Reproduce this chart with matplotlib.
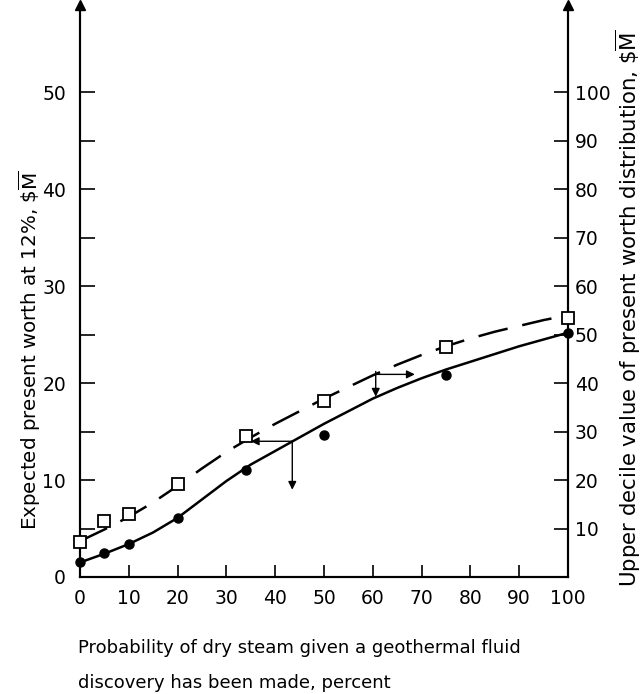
import matplotlib
matplotlib.use("Agg")
import matplotlib.pyplot as plt
import numpy as np

plt.rcParams['font.family'] = ['DejaVu Sans']
plt.rcParams['mathtext.fontset'] = 'dejavusans'

# data
prob_pts = [0, 5, 10, 20, 34, 50, 75, 100]
expected_pw = [1.5, 2.5, 3.4, 6.1, 11.0, 14.6, 20.8, 25.2]          # left axis, $M
upper_decile = [7.2, 11.5, 13.0, 19.1, 29.0, 36.4, 47.5, 53.5]       # right axis, $M

prob_curve = [0, 5, 10, 15, 20, 25, 30, 35, 40, 45, 50,
              55, 60, 65, 70, 75, 80, 85, 90, 95, 100]
expected_curve = [1.5, 2.4, 3.4, 4.6, 6.1, 8.0, 9.9, 11.6, 13.0, 14.4, 15.8,
                  17.1, 18.4, 19.5, 20.5, 21.4, 22.2, 23.0, 23.8, 24.5, 25.2]
decile_curve = [7.4, 9.8, 12.4, 15.4, 18.8, 22.4, 25.8, 28.8, 31.6, 34.2, 36.8,
                39.2, 41.6, 43.8, 45.8, 47.6, 49.2, 50.6, 51.8, 53.0, 54.0]

fig = plt.figure(figsize=(6.43, 6.94), dpi=100)
ax = fig.add_axes([80/643, 1 - 577/694, 488/643, 572/694])
ax2 = ax.twinx()

ax.set_xlim(0, 100)
ax.set_ylim(0, 59)
ax2.set_ylim(0, 118)

# curves
ax.plot(prob_curve, expected_curve, color='black', lw=1.8, clip_on=False)
ax.plot(prob_pts, expected_pw, 'o', color='black', ms=6.5, clip_on=False, zorder=5)
ax2.plot(prob_curve, decile_curve, color='black', lw=1.8, dashes=(12, 6), clip_on=False)
ax2.plot(prob_pts, upper_decile, 's', mfc='white', mec='black', mew=1.3, ms=9,
         clip_on=False, zorder=5)

# reading arrows
akw = dict(arrowstyle='-|>', color='black', lw=1.0, mutation_scale=12, shrinkA=0, shrinkB=0)
ax.annotate('', xy=(35, 14.0), xytext=(43.5, 14.0), arrowprops=akw)
ax.annotate('', xy=(43.5, 9.0), xytext=(43.5, 14.0), arrowprops=akw)
ax.annotate('', xy=(60.6, 18.6), xytext=(60.6, 21.2), arrowprops=akw)
ax.annotate('', xy=(68.6, 20.9), xytext=(60.6, 20.9), arrowprops=akw)

# spines
for a in (ax, ax2):
    a.spines['top'].set_visible(False)
    for s in a.spines.values():
        s.set_linewidth(1.5)
ax.plot([0, 1], [1, 1], '^', color='black', ms=7, transform=ax.transAxes, clip_on=False)

# ticks
ax.set_xticks(range(0, 101, 10))
ax.set_yticks(range(0, 51, 10))
ax.set_yticks(range(5, 50, 10), minor=True)
ax.tick_params(axis='x', direction='in', length=9, width=1.2, pad=9, labelsize=13.5)
ax.tick_params(axis='y', which='both', direction='in', length=11, width=1.2, pad=10, labelsize=13.5)
ax.tick_params(axis='y', which='minor', labelleft=False)
ax2.set_yticks(range(10, 101, 10))
ax2.tick_params(axis='y', direction='in', length=10, width=1.2, pad=5, labelsize=13.5)

fig.text(30/643, 1 - 350/694, r'Expected present worth at 12%, \$$\overline{\mathrm{M}}$',
         rotation=90, ha='center', va='center', fontsize=14.3)
fig.text(628/643, 1 - 308/694,
         r'Upper decile value of present worth distribution, \$$\overline{\mathrm{M}}$',
         rotation=90, ha='center', va='center', fontsize=15.3)
fig.text(78/643, 1 - 648/694, 'Probability of dry steam given a geothermal fluid',
         ha='left', va='center', fontsize=13)
fig.text(78/643, 1 - 683/694, 'discovery has been made, percent',
         ha='left', va='center', fontsize=13)

fig.savefig('out.png', dpi=100)
